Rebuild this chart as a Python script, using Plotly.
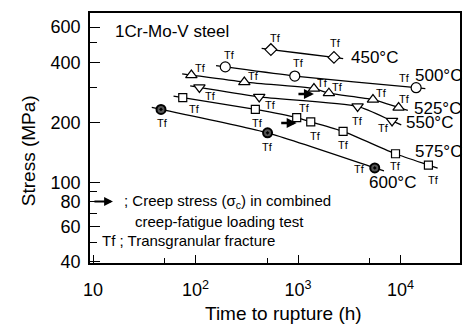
import numpy as np
import plotly.graph_objects as go

# ---- data ----
temps = ["450°C", "500°C", "525°C", "550°C", "575°C", "600°C"]
t450 = [543, 2240];                          s450 = [463, 423]
t500 = [195, 929, 14190];                    s500 = [379, 341, 298]
t525 = [91, 299, 1429, 2000, 5380, 9570];    s525 = [345, 318, 295, 280, 260, 237]
t550 = [109, 418, 3810, 8260];               s550 = [299, 268, 240, 203]
t575 = [75, 383, 970, 1330, 2750, 8930, 18700]; s575 = [266, 232, 211, 201, 180, 139, 122]
t600 = [46, 504, 5600];                      s600 = [232, 177, 118]
times = [t450, t500, t525, t550, t575, t600]
stresses = [s450, s500, s525, s550, s575, s600]
# index of the point tested in combined creep-fatigue loading (arrow), per series
arrow_idx = [None, None, 2, None, 2, None]

x_ticks = [10, 100, 1000, 10000]
x_ticktext = ["10", "10<sup>2</sup>", "10<sup>3</sup>", "10<sup>4</sup>"]
x_minor = [50, 500, 5000]
y_ticks = [40, 60, 80, 100, 200, 400, 600]
y_minor = [50, 70, 90, 300, 500]

# ---- styles ----
symbols = ["diamond", "circle", "triangle-up", "triangle-down", "square", "circle-dot"]
sizes = [9, 10, 10, 10, 8, 9]
# Tf label offsets (px, +y down) per point
tf_off = [
    [(5, -12), (2, -14)],
    [(4, -12), (4, -13), (-12, -10)],
    [(9, -7), (9, -6), (9, -6), (9, -6), (9, -7), (6, -9)],
    [(11, 9), (11, 8), (0, 15), (-9, 7)],
    [(12, 11), (2, 14), (8, -10), (5, 14), (0, 14), (0, 12), (5, 15)],
    [(1, 14), (0, 14), (-15, 1)],
]
# temperature label: offset (px) from last point
temp_off = [(15, 0), (-3, -12), (13, 1), (12, 2), (-15, -14), (-8, 15)]

FONT = "Liberation Sans"
ext = 0.09  # line extension beyond end points (decades)

fig = go.Figure()
annotations = []
for i, (t, s) in enumerate(zip(times, stresses)):
    lt = np.log10(t); ls = np.log10(s)
    k0 = (ls[1] - ls[0]) / (lt[1] - lt[0])
    k1 = (ls[-1] - ls[-2]) / (lt[-1] - lt[-2])
    lx = np.concatenate([[lt[0] - ext], lt, [lt[-1] + ext]])
    ly = np.concatenate([[ls[0] - k0 * ext], ls, [ls[-1] + k1 * ext]])
    fig.add_trace(go.Scatter(x=10 ** lx, y=10 ** ly, mode="lines",
                             line=dict(color="black", width=1.3, shape="spline", smoothing=0.6),
                             showlegend=False, hoverinfo="skip"))
    if symbols[i] == "circle-dot":
        mk = dict(symbol="circle-dot", size=sizes[i], color="#555",
                  line=dict(color="black", width=2))
    else:
        mk = dict(symbol=symbols[i], size=sizes[i], color="white",
                  line=dict(color="black", width=1.2))
    fig.add_trace(go.Scatter(x=t, y=s, mode="markers", marker=mk,
                             showlegend=False, name=temps[i]))
    for j in range(len(t)):
        dx, dy = tf_off[i][j]
        annotations.append(dict(x=lt[j], y=ls[j], xref="x", yref="y", text="Tf",
                                showarrow=False, xshift=dx, yshift=-dy,
                                xanchor="center", yanchor="middle",
                                font=dict(family=FONT, size=11, color="black")))
    dx, dy = temp_off[i]
    annotations.append(dict(x=lt[-1], y=ls[-1], xref="x", yref="y", text=temps[i],
                            showarrow=False, xanchor="left", yanchor="middle",
                            xshift=dx, yshift=-dy,
                            font=dict(family=FONT, size=17, color="black")))
    if arrow_idx[i] is not None:
        j = arrow_idx[i]
        annotations.append(dict(x=lt[j], y=ls[j], xref="x", yref="y", text="",
                                showarrow=True, arrowhead=2, arrowsize=0.8, arrowwidth=2.5,
                                arrowcolor="black", ax=-17, ay=0, xshift=0, yshift=-5.5))

# header and key
def txt(x, y, text, size, **kw):
    d = dict(x=x, y=y, xref="paper", yref="paper", text=text, showarrow=False,
             xanchor="left", yanchor="middle", font=dict(family=FONT, size=size, color="black"))
    d.update(kw)
    return d

annotations += [
    txt(0.062, 0.926, "1Cr-Mo-V steel", 17),
    dict(x=0.062, y=0.246, xref="paper", yref="paper", text="", showarrow=True,
         arrowhead=2, arrowsize=0.8, arrowwidth=2.2, arrowcolor="black", ax=-20, ay=0),
    txt(0.086, 0.246, "; Creep stress (σ<sub>c</sub>) in combined", 15),
    txt(0.115, 0.168, "creep-fatigue loading test", 15),
    txt(0.027, 0.092, "Tf ; Transgranular fracture", 15),
    txt(-0.167, 0.448, "Stress (MPa)", 19, textangle=-90, xanchor="center"),
    txt(0.524, -0.2, "Time to rupture (h)", 19, xanchor="center"),
]

axis_common = dict(showgrid=False, zeroline=False, showline=True, linecolor="black",
                   linewidth=1.5, mirror=True, ticks="inside", tickcolor="black",
                   tickwidth=1.3, tickfont=dict(family=FONT, size=18, color="black"))
fig.update_layout(
    width=465, height=326,
    margin=dict(l=90, r=3, t=13, b=63),
    paper_bgcolor="white", plot_bgcolor="white",
    xaxis=dict(type="log", range=[0.97, 4.58], tickmode="array", tickvals=x_ticks,
               ticktext=x_ticktext, ticklen=8, ticklabelstandoff=10,
               minor=dict(tickvals=x_minor, ticks="inside", ticklen=5, tickcolor="black",
                          tickwidth=1.2), **axis_common),
    yaxis=dict(type="log", range=[1.595, 2.849], tickmode="array", tickvals=y_ticks,
               ticktext=[str(v) for v in y_ticks], ticklen=10, ticklabelstandoff=4,
               minor=dict(tickvals=y_minor, ticks="inside", ticklen=7, tickcolor="black",
                          tickwidth=1.2), **axis_common),
    annotations=annotations,
    showlegend=False,
)
fig.write_html("out.html", config={"displayModeBar": False},
               post_script="document.body.style.margin='0';document.body.style.overflow='hidden';")
